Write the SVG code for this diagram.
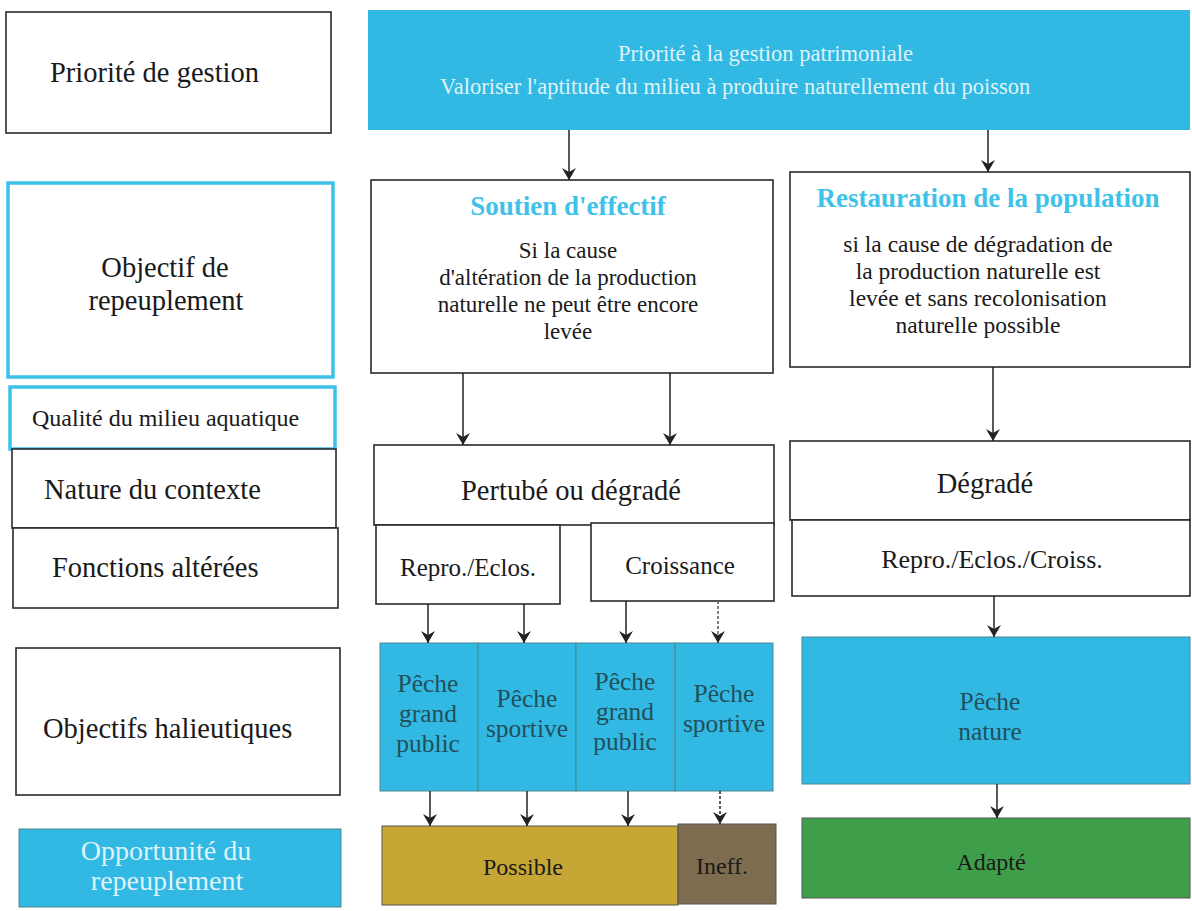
<svg xmlns="http://www.w3.org/2000/svg" width="1192" height="911" viewBox="0 0 1192 911">
<defs>
<marker id="ah" viewBox="0 0 12 14" refX="12" refY="7" markerWidth="13" markerHeight="14" orient="auto" markerUnits="userSpaceOnUse"><path d="M0,0 L12,7 L0,14 L4,7 z" fill="#222"/></marker>
<style>
.box{fill:#fff;stroke:#2a2a2a;stroke-width:1.6}
.cbox{fill:#fff;stroke:#3cc1e9;stroke-width:3.5}
.cyan{fill:#31b9e3;stroke:#4f8794;stroke-width:1}
.poss{fill:#c6a634;stroke:#555;stroke-width:1}
.ineff{fill:#7d6c4f;stroke:#555;stroke-width:1}
.adapt{fill:#3f9e4a;stroke:#555;stroke-width:1}
.t{font-family:"Liberation Serif","Times New Roman",serif;fill:#1a1a1a}
.m{text-anchor:middle}
.lbl{font-size:28.5px}
.body{font-size:23px}
.ttl{font-size:27px;font-weight:bold;fill:#3fc2ea}
.fn{font-size:25px}
.pe{font-size:25.5px;fill:#234f5b}
.light{fill:#dff3fa}
.conn line{stroke:#222;stroke-width:1.5;marker-end:url(#ah)}
</style>
</defs>
<rect width="1192" height="911" fill="#fff"/>

<g id="priorite-gestion">
<rect class="box" x="6" y="12" width="325" height="121"/>
<text class="t lbl" x="50" y="82">Priorité de gestion</text>
</g>
<g id="gestion-patrimoniale">
<rect x="368" y="10" width="822" height="120" fill="#31b9e3"/>
<text class="t light" x="618" y="61" font-size="22.5">Priorité à la gestion patrimoniale</text>
<text class="t light" x="440" y="94" font-size="22.5">Valoriser l'aptitude du milieu à produire naturellement du poisson</text>
</g>

<g id="objectif-repeuplement">
<rect class="cbox" x="8" y="183" width="325" height="194"/>
<text class="t lbl m" x="165" y="277">Objectif de</text>
<text class="t lbl m" x="166" y="310">repeuplement</text>
</g>
<g id="soutien-effectif">
<rect class="box" x="371" y="180" width="402" height="193"/>
<text class="t ttl m" x="568" y="215">Soutien d'effectif</text>
<text class="t body m" x="568" y="258">Si la cause</text>
<text class="t body m" x="568" y="285">d'altération de la production</text>
<text class="t body m" x="568" y="312">naturelle ne peut être encore</text>
<text class="t body m" x="568" y="339">levée</text>
</g>
<g id="restauration-population">
<rect class="box" x="790" y="172" width="400" height="195"/>
<text class="t ttl m" x="988" y="207">Restauration de la population</text>
<text class="t m" x="978" y="252" font-size="23.5">si la cause de dégradation de</text>
<text class="t m" x="978" y="279" font-size="23.5">la production naturelle est</text>
<text class="t m" x="978" y="306" font-size="23.5">levée et sans recolonisation</text>
<text class="t m" x="978" y="333" font-size="23.5">naturelle possible</text>
</g>

<g id="qualite-milieu">
<rect class="cbox" x="10" y="387" width="325" height="62"/>
<text class="t" x="32" y="426" font-size="24">Qualité du milieu aquatique</text>
</g>
<g id="nature-contexte">
<rect class="box" x="12" y="449" width="324" height="79"/>
<text class="t lbl" x="44" y="499">Nature du contexte</text>
</g>
<g id="pertube-degrade">
<rect class="box" x="374" y="445" width="400" height="80"/>
<text class="t m" x="571" y="500" font-size="28.5">Pertubé ou dégradé</text>
</g>
<g id="degrade">
<rect class="box" x="790" y="441" width="400" height="79"/>
<text class="t m" x="985" y="493" font-size="28.5">Dégradé</text>
</g>

<g id="fonctions-alterees">
<rect class="box" x="13" y="528" width="325" height="80"/>
<text class="t lbl" x="52" y="577">Fonctions altérées</text>
</g>
<g id="repro-eclos">
<rect class="box" x="376" y="525" width="184" height="79"/>
<text class="t fn m" x="468" y="576">Repro./Eclos.</text>
</g>
<g id="croissance">
<rect class="box" x="591" y="523" width="183" height="78"/>
<text class="t fn m" x="680" y="574">Croissance</text>
</g>
<g id="repro-eclos-croiss">
<rect class="box" x="792" y="520" width="398" height="76"/>
<text class="t m" x="992" y="568" font-size="26">Repro./Eclos./Croiss.</text>
</g>

<g id="objectifs-halieutiques">
<rect class="box" x="16" y="648" width="324" height="147"/>
<text class="t lbl" x="43" y="738">Objectifs halieutiques</text>
</g>
<g id="peche-grand-public-1">
<rect class="cyan" x="380" y="643" width="98" height="148"/>
<text class="t pe m" x="428" y="692">Pêche</text>
<text class="t pe m" x="428" y="722">grand</text>
<text class="t pe m" x="428" y="752">public</text>
</g>
<g id="peche-sportive-1">
<rect class="cyan" x="478" y="643" width="98" height="148"/>
<text class="t pe m" x="527" y="707">Pêche</text>
<text class="t pe m" x="527" y="737">sportive</text>
</g>
<g id="peche-grand-public-2">
<rect class="cyan" x="576" y="643" width="99" height="148"/>
<text class="t pe m" x="625" y="690">Pêche</text>
<text class="t pe m" x="625" y="720">grand</text>
<text class="t pe m" x="625" y="750">public</text>
</g>
<g id="peche-sportive-2">
<rect class="cyan" x="675" y="643" width="98" height="148"/>
<text class="t pe m" x="724" y="702">Pêche</text>
<text class="t pe m" x="724" y="732">sportive</text>
</g>
<g id="peche-nature">
<rect class="cyan" x="802" y="637" width="388" height="147"/>
<text class="t pe m" x="990" y="710">Pêche</text>
<text class="t pe m" x="990" y="740">nature</text>
</g>

<g id="opportunite-repeuplement">
<rect class="cyan" x="19" y="829" width="322" height="78"/>
<text class="t light m" x="166" y="860" font-size="28">Opportunité du</text>
<text class="t light m" x="167" y="890" font-size="28">repeuplement</text>
</g>
<g id="possible">
<rect class="poss" x="382" y="826" width="296" height="79"/>
<text class="t m" x="523" y="875" font-size="24" fill="#4a4126">Possible</text>
</g>
<g id="ineff">
<rect class="ineff" x="678" y="824" width="98" height="80"/>
<text class="t m" x="722" y="874" font-size="24" fill="#2e2a22">Ineff.</text>
</g>
<g id="adapte">
<rect class="adapt" x="802" y="818" width="388" height="80"/>
<text class="t m" x="991" y="870" font-size="24" fill="#2a5a30">Adapté</text>
</g>

<g id="connectors" class="conn">
<line x1="569" y1="130" x2="569" y2="180"/>
<line x1="988" y1="130" x2="988" y2="172"/>
<line x1="463" y1="373" x2="463" y2="445"/>
<line x1="670" y1="373" x2="670" y2="445"/>
<line x1="993" y1="367" x2="993" y2="441"/>
<line x1="428" y1="604" x2="428" y2="643"/>
<line x1="524" y1="604" x2="524" y2="643"/>
<line x1="626" y1="601" x2="626" y2="643"/>
<line x1="718" y1="601" x2="718" y2="643" stroke-dasharray="3 2" style="stroke:#555"/>
<line x1="994" y1="596" x2="994" y2="637"/>
<line x1="430" y1="791" x2="430" y2="826"/>
<line x1="527" y1="791" x2="527" y2="826"/>
<line x1="628" y1="791" x2="628" y2="826"/>
<line x1="720" y1="791" x2="720" y2="824" stroke-dasharray="3 2"/>
<line x1="997" y1="784" x2="997" y2="818"/>
</g>
</svg>
